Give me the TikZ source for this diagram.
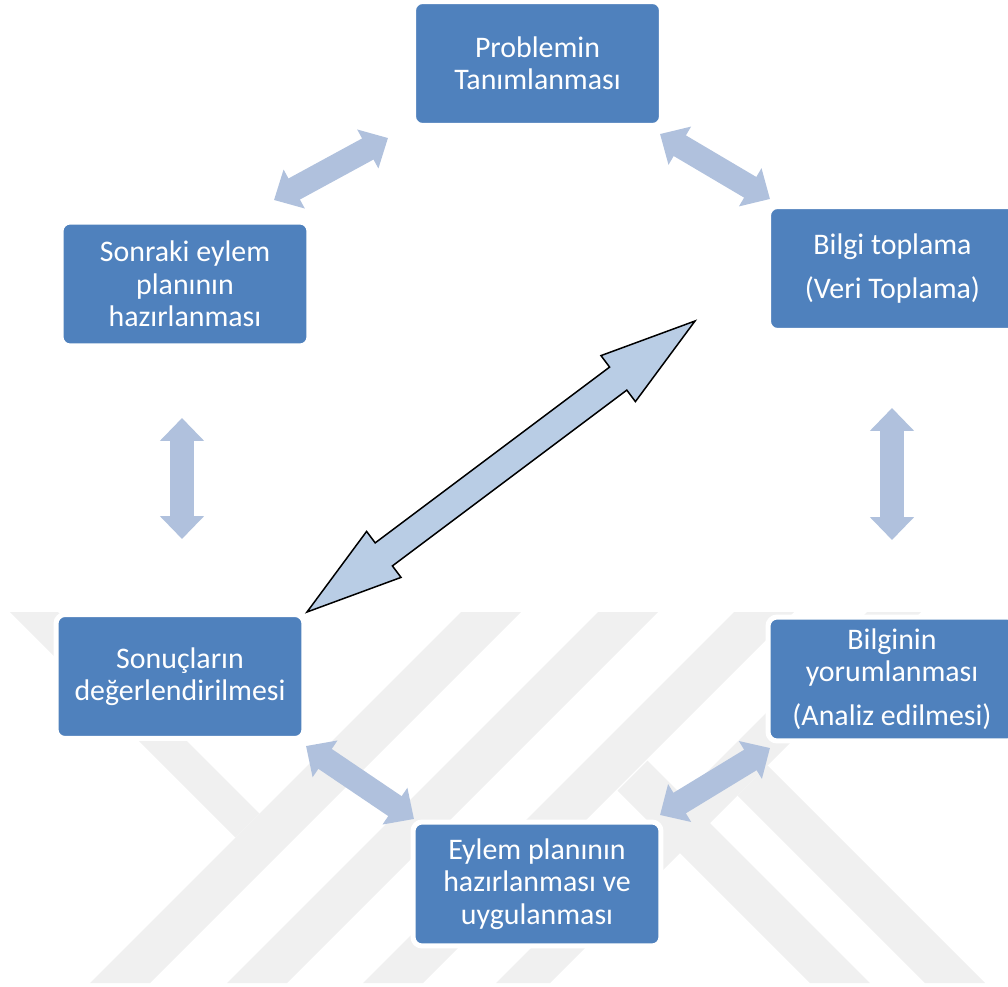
\documentclass[tikz,border=0pt]{standalone}
\usepackage{fontspec}
\setmainfont{Carlito}
\usetikzlibrary{arrows.meta}
\definecolor{boxblue}{HTML}{4F81BD}
\definecolor{arrowblue}{HTML}{B0C1DD}
\definecolor{bigblue}{HTML}{B9CDE5}
\definecolor{wmgray}{HTML}{F0F0F0}

\begin{document}
\begin{tikzpicture}[x=0.02cm, y=-0.02cm,
    phase/.style={rectangle, rounded corners=0.18cm, fill=boxblue, draw=white, line width=0.1cm,
      minimum width=4.96cm, minimum height=2.48cm, inner sep=0pt, align=center, text=white,
      font=\fontsize{17}{18.4}\selectfont},
    twoway/.style={arrowblue, line width=0.48cm,
      {Triangle[length=0.46cm,width=0.86cm]}-{Triangle[length=0.46cm,width=0.86cm]}}]

    \useasboundingbox (0,0) rectangle (1008,987);
    \clip (0,0) rectangle (1008,987);

    % Watermark stripes
    \begin{scope}
      \clip (0,612) rectangle (1008,983);
      \foreach \t/\w in {461/60, 598/60, 734/60, 867/54} {
        \fill[wmgray] (\t,612) -- ({\t+\w},612) -- ({\t+\w-371},983) -- ({\t-371},983) -- cycle;
      }
      \fill[wmgray] (10,612) -- (58,612) -- (259.5,813.5) -- (235.5,837.5) -- cycle;
      \fill[wmgray] (647.5,760.5) -- (870,983) -- (810,983) -- (617.5,790.5) -- cycle;
      \fill[wmgray] (767.5,765.5) -- (985,983) -- (925,983) -- (737.5,795.5) -- cycle;
    \end{scope}

    % Steps of the cycle
    \node[phase] (prob) at (537.5,63.5) {Problemin\\Tanımlanması};
    \node[phase] (bilgi) at (892.5,268.5) {Bilgi toplama\\[7pt](Veri Toplama)};
    \node[phase] (yorum) at (892,679) {Bilginin\\yorumlanması\\[6.5pt](Analiz edilmesi)};
    \node[phase] (eylem) at (537,884) {Eylem planının\\hazırlanması ve\\uygulanması};
    \node[phase] (sonuc) at (180,676.5) {Sonuçların\\değerlendirilmesi};
    \node[phase] (sonraki) at (185,284) {Sonraki eylem\\planının\\hazırlanması};

    % Arrow ends
    \coordinate (pb1) at (660,134);   \coordinate (pb2) at (770,199);
    \coordinate (by1) at (892,408);   \coordinate (by2) at (892,540);
    \coordinate (ye1) at (770,748);   \coordinate (ye2) at (660,815);
    \coordinate (es1) at (414,819);   \coordinate (es2) at (306,746);
    \coordinate (ss1) at (182,539);   \coordinate (ss2) at (182,418);
    \coordinate (sp1) at (274,200);   \coordinate (sp2) at (388,138);

    \foreach \a/\b in {pb1/pb2, by1/by2, ye1/ye2, es1/es2, ss1/ss2, sp1/sp2} {
      \draw[twoway] (\a) -- (\b);
    }

    % Big arrow across the middle
    \draw[fill=bigblue, line width=0.03cm, line join=miter]
      (307,612) -- (401,577.4) -- (392.4,565.9) -- (626.8,390.1) -- (635.4,401.6)
      -- (695,321) -- (601,355.6) -- (609.6,367.1) -- (375.2,542.9) -- (366.6,531.4) -- cycle;

\end{tikzpicture}
\end{document}
